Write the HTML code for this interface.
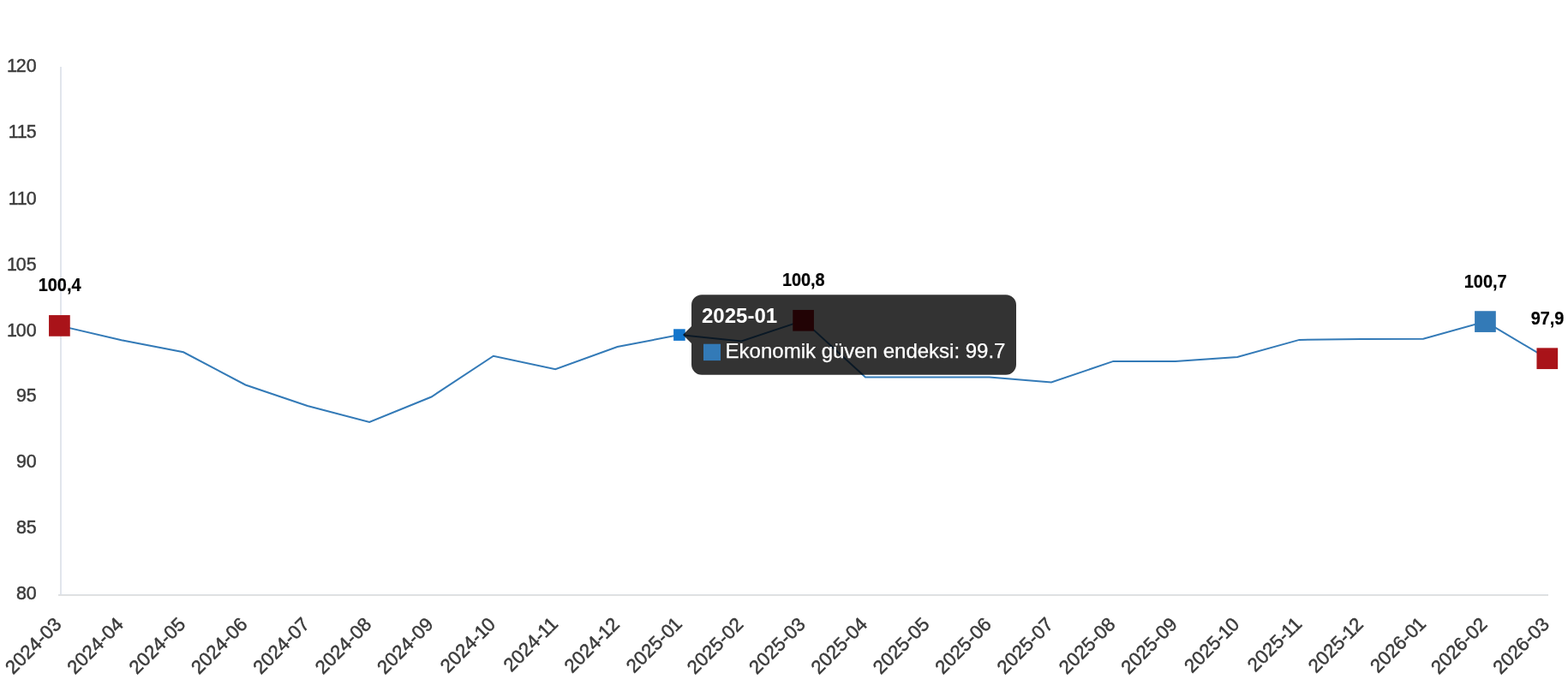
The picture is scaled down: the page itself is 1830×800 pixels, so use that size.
<!DOCTYPE html>
<html lang="tr">
<head>
<meta charset="utf-8">
<title>Ekonomik güven endeksi</title>
<style>
html,body{margin:0;padding:0;background:#fff;}
body{width:1830px;height:800px;overflow:hidden;}
svg{display:block;}
.tk{font-family:"Liberation Sans",sans-serif;font-size:22.3px;fill:#3b3b3b;stroke:#3b3b3b;stroke-width:0.45px;font-kerning:none;}
.dl{font-family:"Liberation Sans",sans-serif;font-size:20px;font-weight:bold;fill:#000;stroke:#000;stroke-width:0.2px;text-anchor:middle;}
.tt{font-family:"Liberation Sans",sans-serif;font-size:24px;font-weight:bold;fill:#fff;}
.tb{font-family:"Liberation Sans",sans-serif;font-size:24px;fill:#fff;stroke:#fff;stroke-width:0.25px;}
</style>
</head>
<body>
<svg width="1830" height="800" viewBox="0 0 1830 800">
<rect width="1830" height="800" fill="#fff"/>
<g id="axes">
<rect x="70" y="78" width="1" height="617" fill="#e1e4e9"/>
<rect x="71" y="78" width="1" height="617" fill="#e2e6ef"/>
<rect x="68" y="694" width="1739" height="1" fill="#dce0e4"/>
<rect x="68" y="695" width="1739" height="1" fill="#e1e1e1"/>
</g>
<g id="yticks">
<text class="tk" transform="translate(8.90,83.90) scale(0.96,1.03)" x="0" y="0" dx="-1 -1 0">120</text>
<text class="tk" transform="translate(10.82,161.03) scale(0.96,1.03)" x="0" y="0" dx="-1 -2 -1">115</text>
<text class="tk" transform="translate(10.82,238.95) scale(0.96,1.03)" x="0" y="0" dx="-1 -2 -1">110</text>
<text class="tk" transform="translate(8.90,315.97) scale(0.96,1.03)" x="0" y="0" dx="-1 -1 0">105</text>
<text class="tk" transform="translate(8.90,393.10) scale(0.96,1.03)" x="0" y="0" dx="-1 -1 0">100</text>
<text class="tk" transform="translate(18.89,469.22) scale(0.96,1.03)" x="0" y="0" dx="0 0">95</text>
<text class="tk" transform="translate(18.89,546.25) scale(0.96,1.03)" x="0" y="0" dx="0 0">90</text>
<text class="tk" transform="translate(18.89,623.38) scale(0.96,1.03)" x="0" y="0" dx="0 0">85</text>
<text class="tk" transform="translate(18.89,700.40) scale(0.96,1.03)" x="0" y="0" dx="0 0">80</text>
</g>
<g id="xticks">
<text class="tk" transform="translate(73.00,730.6) rotate(-45)" x="-81.84" y="0" dx="0 0 0 0 0 0 0">2024-03</text>
<text class="tk" transform="translate(145.35,730.6) rotate(-45)" x="-81.84" y="0" dx="0 0 0 0 0 0 0">2024-04</text>
<text class="tk" transform="translate(217.70,730.6) rotate(-45)" x="-81.84" y="0" dx="0 0 0 0 0 0 0">2024-05</text>
<text class="tk" transform="translate(290.05,730.6) rotate(-45)" x="-81.84" y="0" dx="0 0 0 0 0 0 0">2024-06</text>
<text class="tk" transform="translate(362.40,730.6) rotate(-45)" x="-81.84" y="0" dx="0 0 0 0 0 0 0">2024-07</text>
<text class="tk" transform="translate(434.75,730.6) rotate(-45)" x="-81.84" y="0" dx="0 0 0 0 0 0 0">2024-08</text>
<text class="tk" transform="translate(507.10,730.6) rotate(-45)" x="-81.84" y="0" dx="0 0 0 0 0 0 0">2024-09</text>
<text class="tk" transform="translate(579.45,730.6) rotate(-45)" x="-79.84" y="0" dx="0 0 0 0 0 -1 -1">2024-10</text>
<text class="tk" transform="translate(651.80,730.6) rotate(-45)" x="-77.84" y="0" dx="0 0 0 0 0 -1 -2">2024-11</text>
<text class="tk" transform="translate(724.15,730.6) rotate(-45)" x="-79.84" y="0" dx="0 0 0 0 0 -1 -1">2024-12</text>
<text class="tk" transform="translate(796.50,730.6) rotate(-45)" x="-79.84" y="0" dx="0 0 0 0 0 0 -1">2025-01</text>
<text class="tk" transform="translate(868.85,730.6) rotate(-45)" x="-81.84" y="0" dx="0 0 0 0 0 0 0">2025-02</text>
<text class="tk" transform="translate(941.20,730.6) rotate(-45)" x="-81.84" y="0" dx="0 0 0 0 0 0 0">2025-03</text>
<text class="tk" transform="translate(1013.55,730.6) rotate(-45)" x="-81.84" y="0" dx="0 0 0 0 0 0 0">2025-04</text>
<text class="tk" transform="translate(1085.90,730.6) rotate(-45)" x="-81.84" y="0" dx="0 0 0 0 0 0 0">2025-05</text>
<text class="tk" transform="translate(1158.25,730.6) rotate(-45)" x="-81.84" y="0" dx="0 0 0 0 0 0 0">2025-06</text>
<text class="tk" transform="translate(1230.60,730.6) rotate(-45)" x="-81.84" y="0" dx="0 0 0 0 0 0 0">2025-07</text>
<text class="tk" transform="translate(1302.95,730.6) rotate(-45)" x="-81.84" y="0" dx="0 0 0 0 0 0 0">2025-08</text>
<text class="tk" transform="translate(1375.30,730.6) rotate(-45)" x="-81.84" y="0" dx="0 0 0 0 0 0 0">2025-09</text>
<text class="tk" transform="translate(1447.65,730.6) rotate(-45)" x="-79.84" y="0" dx="0 0 0 0 0 -1 -1">2025-10</text>
<text class="tk" transform="translate(1520.00,730.6) rotate(-45)" x="-77.84" y="0" dx="0 0 0 0 0 -1 -2">2025-11</text>
<text class="tk" transform="translate(1592.35,730.6) rotate(-45)" x="-79.84" y="0" dx="0 0 0 0 0 -1 -1">2025-12</text>
<text class="tk" transform="translate(1664.70,730.6) rotate(-45)" x="-79.84" y="0" dx="0 0 0 0 0 0 -1">2026-01</text>
<text class="tk" transform="translate(1737.05,730.6) rotate(-45)" x="-81.84" y="0" dx="0 0 0 0 0 0 0">2026-02</text>
<text class="tk" transform="translate(1809.40,730.6) rotate(-45)" x="-81.84" y="0" dx="0 0 0 0 0 0 0">2026-03</text>
</g>
<polyline points="69.40,380.40 141.75,397.20 214.10,411.30 286.45,449.50 358.80,474.00 431.15,492.90 503.50,463.50 575.85,415.70 648.20,431.20 720.55,405.00 792.90,391.10 865.25,398.50 937.60,374.30 1009.95,440.40 1082.30,440.40 1154.65,440.40 1227.00,446.50 1299.35,421.90 1371.70,421.90 1444.05,417.00 1516.40,396.90 1588.75,396.00 1661.10,395.80 1733.45,375.60 1805.80,418.70" fill="none" stroke="#337ab7" stroke-width="2" stroke-linejoin="miter"/>
<g id="points">
<rect x="57.05" y="368.05" width="24.7" height="24.7" fill="#a91319"/>
<rect x="925.25" y="361.95" width="24.7" height="24.7" fill="#a91319"/>
<rect x="1721.10" y="363.25" width="24.7" height="24.7" fill="#337ab7"/>
<rect x="1793.45" y="406.35" width="24.7" height="24.7" fill="#a91319"/>
<rect x="786.10" y="384.30" width="13.6" height="13.6" fill="#1275cc"/>
</g>
<g id="datalabels">
<text class="dl" transform="translate(69.60,339.90) scale(0.995,1.075)" x="0" y="0">100,4</text>
<text class="dl" transform="translate(937.80,333.80) scale(0.995,1.075)" x="0" y="0">100,8</text>
<text class="dl" transform="translate(1733.65,335.70) scale(0.995,1.075)" x="0" y="0">100,7</text>
<text class="dl" transform="translate(1806.00,378.80) scale(0.995,1.075)" x="0" y="0">97,9</text>
</g>
<g id="tooltip">
<path d="M819,344.2 H1174 A12,12 0 0 1 1186,356.2 V425.79999999999995 A12,12 0 0 1 1174,437.79999999999995 H819 A12,12 0 0 1 807,425.79999999999995 V401.0 L797,391.0 L807,381.0 V356.2 A12,12 0 0 1 819,344.2 Z" fill="#000" fill-opacity="0.8"/>
<text class="tt" x="819" y="377.4">2025-01</text>
<rect x="821" y="401.7" width="20" height="19.4" fill="#337ab7"/>
<text class="tb" x="846.6" y="418.2">Ekonomik güven endeksi: 99.7</text>
</g>
</svg>
</body>
</html>
